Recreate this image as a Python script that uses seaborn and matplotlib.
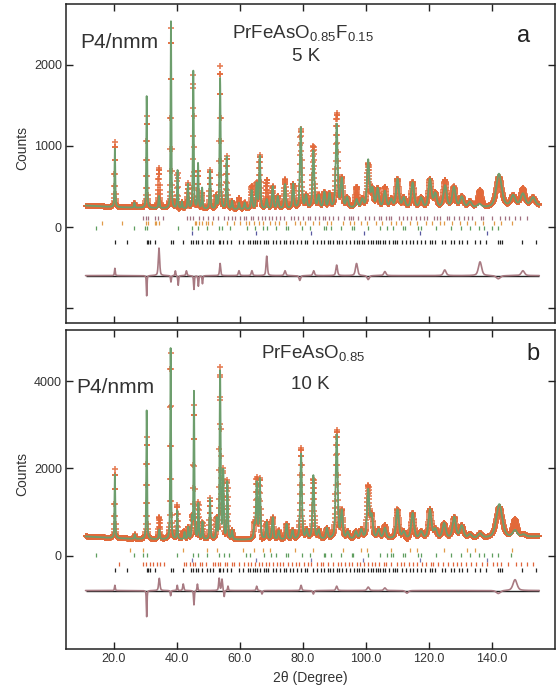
import numpy as np
import pandas as pd
import matplotlib
matplotlib.use("Agg")
import matplotlib.pyplot as plt
import seaborn as sns

# ---------------- panel a : PrFeAsO0.85F0.15, 5 K ----------------
a_bg_pos = [11, 20, 40, 60, 80, 100, 120, 140, 155]
a_bg_cnt = [265, 245, 225, 215, 225, 235, 230, 240, 265]
a_peak_pos = [20.3, 26.5, 30.4, 34.3, 38.1, 40.2, 41.6, 43.5, 45.2, 46.7, 48.0, 50.5, 52.5, 53.7,
              55.8, 57.5, 59.7, 61.5, 63.7, 65.3, 66.3, 68.5, 70.4, 72.0, 74.3, 76.9, 79.3, 81.0,
              83.3, 85.0, 86.8, 88.4, 90.7, 92.3, 94.0, 97.0, 98.8, 100.7, 102.0, 103.7, 106.0,
              108.0, 110.0, 112.0, 114.8, 117.5, 120.3, 122.0, 125.1, 127.9, 130.4, 133.0, 136.0,
              142.2, 146.7, 149.8, 153.0]
a_peak_hgt = [720, 60, 1380, 150, 2310, 470, 80, 300, 1700, 555, 255, 475, 150, 1615,
              645, 100, 80, 80, 230, 310, 650, 115, 275, 150, 300, 300, 1000, 150,
              710, 150, 190, 170, 1030, 350, 120, 100, 100, 580, 220, 230, 200,
              100, 350, 120, 310, 120, 350, 170, 270, 250, 130, 70, 40,
              410, 130, 150, 100]
a_peak_fwhm = [0.30, 0.30, 0.30, 0.40, 0.30, 0.32, 0.35, 0.35, 0.32, 0.35, 0.35, 0.38, 0.4, 0.38,
               0.40, 0.45, 0.5, 0.5, 0.5, 0.5, 0.5, 0.55, 0.55, 0.6, 0.6, 0.6, 0.6, 0.65,
               0.65, 0.7, 0.7, 0.7, 0.7, 0.75, 0.8, 0.8, 0.85, 0.85, 0.9, 0.9, 0.95,
               1.0, 1.0, 1.0, 1.05, 1.1, 1.1, 1.1, 1.2, 1.2, 1.3, 1.3, 1.4,
               2.0, 1.6, 1.6, 1.6]
a_diff_pos = [20.3, 30.4, 34.3, 38.1, 39.5, 40.4, 43.0, 45.4, 46.8, 48.1, 53.7, 59.7, 63.8,
              68.5, 74.3, 79.0, 83.4, 90.7, 97.0, 100.7, 106.0, 125.0, 136.2, 142.0, 149.8]
a_diff_amp = [90, -250, 340, -80, 60, -120, 60, -170, -130, -100, 150, 60, 60,
              240, 60, -60, 60, 130, 150, -50, 50, 70, 170, -40, 60]
a_diff_fwhm = [0.3, 0.25, 0.5, 0.3, 0.3, 0.3, 0.4, 0.3, 0.3, 0.3, 0.4, 0.5, 0.5,
               0.5, 0.6, 0.6, 0.6, 0.6, 0.8, 0.8, 0.8, 1.0, 1.2, 1.5, 1.2]
a_ticks_mauve = [29.3, 30.2, 30.9, 33.0, 34.1, 35.7, 43.1, 44.0, 45.0, 47.1, 48.3, 49.9, 51.5, 53.1,
                 55.0, 56.2, 57.6, 58.4, 59.9, 61.2, 62.0, 63.5, 64.2, 65.8, 66.9, 68.0, 69.2,
                 70.1, 71.3, 72.6, 74.0, 76.2, 77.0, 78.4, 80.1, 81.6, 82.3, 83.9, 85.1, 86.3,
                 87.0, 88.2, 89.5, 91.2, 93.0, 94.5, 95.2, 96.0, 97.5, 99.8, 100.9, 102.4, 104.0,
                 104.8, 106.5, 107.3, 108.0, 110.5, 111.8, 113.0, 114.2, 116.0, 117.2, 118.5,
                 119.3, 121.5, 122.4, 123.6, 125.8, 126.5, 128.0, 129.6, 131.2, 132.5, 133.8,
                 136.5, 137.2, 140.0, 142.5, 144.0, 145.5, 147.2, 149.0, 151.0]
a_ticks_orange = [16.1, 22.6, 30.2, 30.9, 33.0, 33.5, 34.3, 45.7, 46.2, 47.1, 48.1, 49.2, 49.9, 51.0,
                  55.8, 58.2, 60.0, 61.8, 63.0, 64.5, 66.0, 67.4, 69.5, 71.0, 72.5, 74.7, 77.5,
                  79.0, 80.6, 83.1, 85.2, 87.7, 89.0, 92.6, 94.8, 96.3, 98.3, 100.2, 103.2, 105.0,
                  107.8, 109.4, 111.0, 114.0, 116.1, 118.9, 121.0, 123.5, 124.8, 127.2, 129.8,
                  132.0, 134.6, 137.0, 140.5, 143.0, 146.5]
a_ticks_green = [14.3, 26.3, 29.8, 30.4, 40.2, 44.8, 46.7, 49.4, 53.3, 54.2, 56.8, 62.1, 64.8, 67.4,
                 68.5, 71.5, 74.5, 75.3, 79.8, 82.3, 86.6, 87.2, 89.0, 92.0, 95.5, 96.2, 100.5,
                 104.5, 106.8, 108.6, 111.7, 112.4, 116.5, 117.5, 122.3, 127.0, 130.0, 133.0,
                 136.0, 137.5, 140.0, 142.0]
a_ticks_blue = [44.7, 65.1, 82.7, 99.4, 117.1, 138.3]
a_ticks_black = [20.3, 24.3, 30.4, 30.9, 31.5, 33.0, 38.1, 38.7, 42.0, 44.6, 45.2, 46.0, 46.8, 48.0,
                 49.4, 50.5, 51.6, 53.2, 53.7, 54.6, 55.8, 57.2, 59.7, 61.0, 62.4, 63.2, 64.0,
                 64.8, 65.3, 66.3, 67.5, 68.3, 69.0, 70.4, 71.6, 72.8, 74.0, 74.6, 76.0, 76.9,
                 78.1, 79.3, 80.5, 81.2, 83.3, 84.5, 85.6, 86.8, 88.0, 88.6, 89.6, 90.7, 91.5,
                 92.3, 93.8, 95.0, 96.2, 97.0, 97.8, 98.7, 99.5, 100.7, 101.5, 102.3, 103.1,
                 103.7, 104.6, 105.3, 106.0, 107.2, 108.5, 109.2, 110.0, 111.5, 112.6, 114.0,
                 114.8, 116.2, 117.5, 118.8, 120.3, 121.0, 122.0, 124.2, 125.1, 127.0, 127.9,
                 129.5, 130.4, 132.0, 134.5, 136.2, 138.0, 141.8, 142.5, 143.2, 149.5, 154.0]

# ---------------- panel b : PrFeAsO0.85, 10 K ----------------
b_bg_pos = [11, 20, 30, 60, 80, 100, 120, 140, 155]
b_bg_cnt = [440, 400, 375, 360, 365, 380, 385, 400, 440]
b_peak_pos = [20.3, 26.6, 30.4, 34.4, 38.0, 40.1, 42.4, 43.6, 44.8, 45.4, 46.8, 48.1, 50.5, 52.6,
              53.7, 54.7, 56.0, 57.5, 64.6, 65.3, 66.3, 68.5, 70.4, 72.3, 74.8, 76.7, 79.4, 81.2,
              83.3, 85.0, 87.6, 90.7, 92.3, 94.2, 96.8, 98.5, 100.7, 101.8, 104.0, 106.0, 110.0,
              112.0, 114.8, 117.5, 120.3, 122.0, 124.8, 128.0, 130.4, 133.0, 136.2, 142.3, 147.3,
              150.0]
b_peak_hgt = [1460, 100, 2950, 220, 4380, 660, 160, 270, 450, 3380, 810, 390, 930, 450,
              3840, 1540, 1310, 200, 300, 1280, 1370, 390, 500, 200, 350, 200, 1960, 200,
              1460, 200, 240, 2380, 620, 150, 160, 200, 1100, 500, 200, 240, 660,
              150, 580, 150, 660, 200, 340, 480, 280, 80, 100, 770, 150,
              50]
b_peak_fwhm = [0.30, 0.30, 0.30, 0.40, 0.30, 0.32, 0.35, 0.35, 0.35, 0.32, 0.35, 0.35, 0.38, 0.4,
               0.38, 0.38, 0.40, 0.45, 0.5, 0.5, 0.5, 0.55, 0.55, 0.6, 0.6, 0.6, 0.6, 0.65,
               0.65, 0.7, 0.7, 0.7, 0.75, 0.8, 0.8, 0.85, 0.85, 0.9, 0.9, 0.95, 1.0,
               1.0, 1.05, 1.1, 1.1, 1.1, 1.2, 1.2, 1.3, 1.3, 1.4, 2.2, 1.6,
               1.6]
b_diff_pos = [20.3, 30.4, 34.4, 38.0, 40.1, 42.0, 45.4, 46.5, 53.4, 54.3, 55.0, 56.2, 65.3, 67.0,
              79.4, 83.3, 90.7, 100.7, 106.0, 113.0, 142.0, 147.3]
b_diff_amp = [120, -600, 280, -120, 120, 150, -330, 150, 280, 260, -150, 100, 100, -80,
              120, -80, 100, 80, 60, -60, -70, 250]
b_diff_fwhm = [0.3, 0.25, 0.5, 0.3, 0.3, 0.4, 0.3, 0.3, 0.4, 0.4, 0.3, 0.3, 0.4, 0.4,
               0.5, 0.5, 0.6, 0.8, 0.8, 1.0, 1.5, 1.5]
b_ticks_orange = [25.1, 29.1, 42.0, 49.4, 52.6, 61.0, 64.5, 67.4, 69.5, 77.5, 83.1, 92.6, 98.3,
                  100.2, 107.8, 114.0, 116.1, 124.8, 132.0, 134.6, 146.5]
b_ticks_green = [14.3, 26.3, 29.3, 30.4, 40.1, 45.2, 46.8, 49.4, 53.4, 54.9, 56.6, 61.9, 63.2,
                 67.5, 70.0, 71.5, 74.5, 75.3, 79.8, 82.3, 86.6, 87.0, 89.0, 92.0, 95.5, 96.0,
                 100.5, 104.5, 106.8, 108.0, 108.6, 111.7, 112.3, 116.5, 117.5, 122.3, 127.0,
                 130.0, 133.0, 136.0, 137.5, 140.0, 142.0, 146.0]
b_ticks_blue = [44.7, 65.1, 82.4, 99.2, 117.1, 138.3]
b_ticks_red = [21.7, 29.3, 30.2, 31.4, 32.5, 33.7, 34.6, 35.9, 42.2, 43.0, 44.1, 45.0, 45.7, 47.3,
               48.1, 49.2, 51.5, 52.0, 53.0, 53.6, 55.2, 56.0, 57.5, 58.2, 59.7, 61.2, 62.5,
               63.6, 64.8, 66.1, 67.0, 68.3, 69.2, 70.6, 71.8, 72.7, 73.6, 75.1, 76.5, 77.7,
               78.9, 80.4, 81.5, 82.6, 84.3, 85.7, 86.5, 88.1, 89.4, 91.0, 92.0, 93.4, 94.6,
               95.7, 97.1, 98.0, 99.3, 100.6, 101.9, 103.0, 104.2, 105.6, 106.4, 108.0, 109.7,
               111.0, 112.2, 113.8, 115.0, 116.3, 117.8, 119.2, 120.6, 121.4, 123.0, 124.4,
               126.0, 127.5, 128.8, 130.0, 131.6, 133.2, 135.0, 136.8, 138.5, 140.2, 141.5,
               143.0, 145.0, 147.5, 149.2, 151.0, 153.0]
b_ticks_black = a_ticks_black

x_ticks = [20, 40, 60, 80, 100, 120, 140]
x_ticklabels = ["20.0", "40.0", "60.0", "80.0", "100.0", "120.0", "140.0"]

two_theta = np.arange(11.0, 155.0 + 1e-9, 0.05)


def profile(pos, hgt, fwhm):
    out = np.zeros_like(two_theta)
    for p, h, w in zip(pos, hgt, fwhm):
        d = (two_theta - p) / (w / 2.0)
        out += h * (0.5 / (1 + d ** 2) + 0.5 * np.exp(-np.log(2) * d ** 2))
    return out


def build(bg_pos, bg_cnt, pk_pos, pk_hgt, pk_w, df_pos, df_amp, df_w):
    calc = np.interp(two_theta, bg_pos, bg_cnt) + profile(pk_pos, pk_hgt, pk_w)
    diff = profile(df_pos, df_amp, df_w)
    return pd.DataFrame({"tt": two_theta, "calc": calc, "obs": calc + diff, "diff": diff})


sns.set_style("ticks")
plt.rcParams["font.family"] = ["Liberation Sans", "DejaVu Sans"]
plt.rcParams["mathtext.fontset"] = "custom"
plt.rcParams["mathtext.rm"] = "Liberation Sans"
text_col = "#333333"

fig = plt.figure(figsize=(5.59, 6.90), dpi=100)
ax_a = fig.add_axes([0.1181, 0.5319, 0.8748, 0.4623])
ax_b = fig.add_axes([0.1181, 0.0594, 0.8748, 0.4623])

OBS = "#E2693A"
CALC = "#6D9E6D"
DIFF = "#A87A82"

panels = [
    (ax_a, build(a_bg_pos, a_bg_cnt, a_peak_pos, a_peak_hgt, a_peak_fwhm,
                 a_diff_pos, a_diff_amp, a_diff_fwhm), -600,
     [(a_ticks_mauve, 110, "#A07080"), (a_ticks_orange, 50, "#E09A48"),
      (a_ticks_green, -12, "#5E9E5E"), (a_ticks_blue, -75, "#5858A0"),
      (a_ticks_black, -185, "#222222")],
     (-1185, 2753)),
    (ax_b, build(b_bg_pos, b_bg_cnt, b_peak_pos, b_peak_hgt, b_peak_fwhm,
                 b_diff_pos, b_diff_amp, b_diff_fwhm), -800,
     [(b_ticks_orange, 140, "#E09A48"), (b_ticks_green, 25, "#5E9E5E"),
      (b_ticks_blue, -90, "#7878B0"), (b_ticks_red, -185, "#E0643A"),
      (b_ticks_black, -320, "#222222")],
     (-2140, 5170)),
]

for ax, df, off, rows, ylim in panels:
    sns.scatterplot(data=df, x="tt", y="obs", ax=ax, marker="+", s=20, color=OBS,
                    linewidth=1.2, alpha=0.85, legend=False, zorder=2)
    sns.lineplot(data=df, x="tt", y="calc", ax=ax, color=CALC, lw=1.3, zorder=3)
    ax.hlines(off, df["tt"].min(), df["tt"].max(), color="#222222", lw=1.0, zorder=2)
    df_d = df.assign(dshift=df["diff"] + off)
    sns.lineplot(data=df_d, x="tt", y="dshift", ax=ax, color=DIFF, lw=1.2, zorder=3)
    for pos, yv, col in rows:
        t = pd.DataFrame({"p": pos, "y": [yv] * len(pos)})
        sns.scatterplot(data=t, x="p", y="y", ax=ax, marker="|", s=12, color=col,
                        linewidth=0.9, legend=False, zorder=2)
    ax.set_xlim(4.8, 160)
    ax.set_ylim(*ylim)
    ax.set_xticks(x_ticks)
    ax.tick_params(direction="in", top=True, right=True, length=5, width=1.0,
                   labelsize=9, colors="#222222", labelcolor=text_col, pad=3)
    for sp in ax.spines.values():
        sp.set_linewidth(1.1)
        sp.set_color("#222222")
    ax.set_ylabel("Counts", fontsize=10, color=text_col)
    ax.set_xlabel("")

ax_a.set_yticks([-1000, 0, 1000, 2000])
ax_a.set_yticklabels(["", "0", "1000", "2000"])
ax_a.set_xticklabels([])
ax_b.set_yticks([0, 2000, 4000])
ax_b.set_yticklabels(["0", "2000", "4000"])
ax_b.set_xticklabels(x_ticklabels)
ax_b.set_xlabel("2θ (Degree)", fontsize=10, color=text_col, labelpad=4)
ax_a.yaxis.set_label_coords(-0.075, 0.55)
ax_b.yaxis.set_label_coords(-0.075, 0.55)

ax_a.text(0.03, 0.88, "P4/nmm", transform=ax_a.transAxes, fontsize=15, color=text_col,
          ha="left", va="center")
ax_a.text(0.485, 0.905, r"PrFeAsO$_{\mathregular{0.85}}$F$_{\mathregular{0.15}}$",
          transform=ax_a.transAxes, fontsize=13.5, color=text_col, ha="center", va="center")
ax_a.text(0.49, 0.835, "5 K", transform=ax_a.transAxes, fontsize=13.5, color=text_col,
          ha="center", va="center")
ax_a.text(0.935, 0.9, "a", transform=ax_a.transAxes, fontsize=17, color="#222222",
          ha="center", va="center")

ax_b.text(0.02, 0.82, "P4/nmm", transform=ax_b.transAxes, fontsize=15, color=text_col,
          ha="left", va="center")
ax_b.text(0.505, 0.925, r"PrFeAsO$_{\mathregular{0.85}}$", transform=ax_b.transAxes,
          fontsize=13.5, color=text_col, ha="center", va="center")
ax_b.text(0.5, 0.83, "10 K", transform=ax_b.transAxes, fontsize=13.5, color=text_col,
          ha="center", va="center")
ax_b.text(0.955, 0.925, "b", transform=ax_b.transAxes, fontsize=17, color="#222222",
          ha="center", va="center")

fig.savefig("out.png", dpi=100)
